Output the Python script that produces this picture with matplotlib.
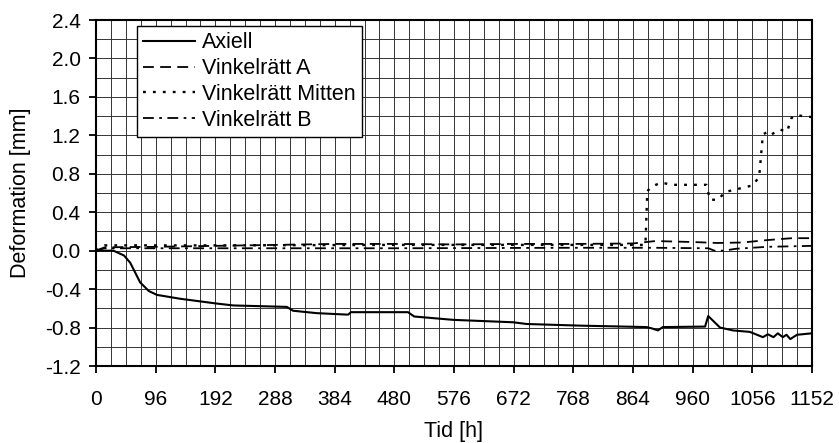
import numpy as np
import matplotlib
matplotlib.use("Agg")
import matplotlib.pyplot as plt
from matplotlib.ticker import MultipleLocator, FormatStrFormatter

plt.rcParams["font.family"] = ["Liberation Sans", "DejaVu Sans"]
plt.rcParams["axes.unicode_minus"] = False

# Axiell (solid)
ax_t = [0, 28, 45, 55, 71, 85, 98, 135, 194, 221, 307, 317, 355, 403, 406, 410,
        502, 512, 575, 671, 693, 779, 886, 895, 904, 912, 980, 985, 1004, 1025,
        1052, 1073, 1081, 1090, 1097, 1105, 1111, 1117, 1128, 1152]
ax_v = [0.0, 0.0, -0.05, -0.125, -0.33, -0.42, -0.46, -0.50, -0.55, -0.57, -0.585,
        -0.625, -0.65, -0.665, -0.665, -0.64, -0.64, -0.685, -0.72, -0.745, -0.763,
        -0.78, -0.795, -0.81, -0.83, -0.795, -0.79, -0.68, -0.80, -0.83, -0.845,
        -0.90, -0.87, -0.90, -0.86, -0.90, -0.875, -0.92, -0.875, -0.86]

# Vinkelrätt A (dashed)
a_t = [0, 14, 96, 192, 288, 384, 480, 576, 672, 768, 864, 900, 960, 1000, 1040,
       1080, 1120, 1152]
a_v = [0.0, 0.035, 0.04, 0.05, 0.06, 0.07, 0.07, 0.065, 0.07, 0.07, 0.075, 0.10,
       0.09, 0.08, 0.085, 0.11, 0.13, 0.13]

# Vinkelrätt Mitten (dotted)
m_t = [0, 14, 192, 480, 864, 884, 887, 895, 910, 925, 982, 988, 1001, 1012, 1057,
       1067, 1073, 1082, 1087, 1100, 1112, 1119, 1125, 1152]
m_v = [0.0, 0.055, 0.055, 0.06, 0.06, 0.06, 0.62, 0.67, 0.71, 0.685, 0.685, 0.53,
       0.53, 0.61, 0.68, 0.77, 1.21, 1.24, 1.21, 1.26, 1.24, 1.38, 1.41, 1.39]

# Vinkelrätt B (dash-dot)
b_t = [0, 14, 192, 480, 768, 900, 985, 995, 1010, 1030, 1080, 1152]
b_v = [0.0, 0.025, 0.025, 0.025, 0.03, 0.03, 0.025, 0.0, 0.0, 0.02, 0.04, 0.05]

fig = plt.figure(figsize=(8.39, 4.43), dpi=100)
ax = fig.add_axes([96 / 839, 1 - 366 / 443, (812 - 96) / 839, (366 - 20) / 443])

ax.plot(ax_t, ax_v, color="black", lw=1.5, label="Axiell")
ax.plot(a_t, a_v, color="black", lw=1.3, dashes=(6, 3.5), label="Vinkelrätt A")
ax.plot(m_t, m_v, color="black", lw=1.7, dashes=(1.2, 3), label="Vinkelrätt Mitten")
ax.plot(b_t, b_v, color="black", lw=1.3, dashes=(6, 3, 1.5, 3), label="Vinkelrätt B")

ax.set_xlim(0, 1152)
ax.set_ylim(-1.2, 2.4)
ax.xaxis.set_major_locator(MultipleLocator(96))
ax.xaxis.set_minor_locator(MultipleLocator(24))
ax.yaxis.set_major_locator(MultipleLocator(0.4))
ax.yaxis.set_minor_locator(MultipleLocator(0.2))
ax.yaxis.set_major_formatter(FormatStrFormatter("%.1f"))
ax.grid(which="both", color="#333333", lw=0.7)
ax.set_axisbelow(True)
ax.tick_params(which="major", direction="out", length=5, width=1.3, labelsize=15)
ax.tick_params(axis="x", which="major", pad=12)
ax.tick_params(axis="y", which="major", pad=6)
ax.tick_params(which="minor", length=0)
for s in ax.spines.values():
    s.set_linewidth(1.5)

ax.set_xlabel("Tid [h]", fontsize=15.5, labelpad=9)
ax.set_ylabel("Deformation [mm]", fontsize=15.5, labelpad=10)

leg = ax.legend(loc="upper left", bbox_to_anchor=(137 / 839, 1 - 26 / 443),
                bbox_transform=fig.transFigure, borderaxespad=0, fancybox=False,
                framealpha=1, edgecolor="black", fontsize=15.5, handlelength=2.4,
                handletextpad=0.3, labelspacing=0.22, borderpad=0.3)
leg.get_frame().set_linewidth(1.0)

fig.savefig("out.png", dpi=100)
